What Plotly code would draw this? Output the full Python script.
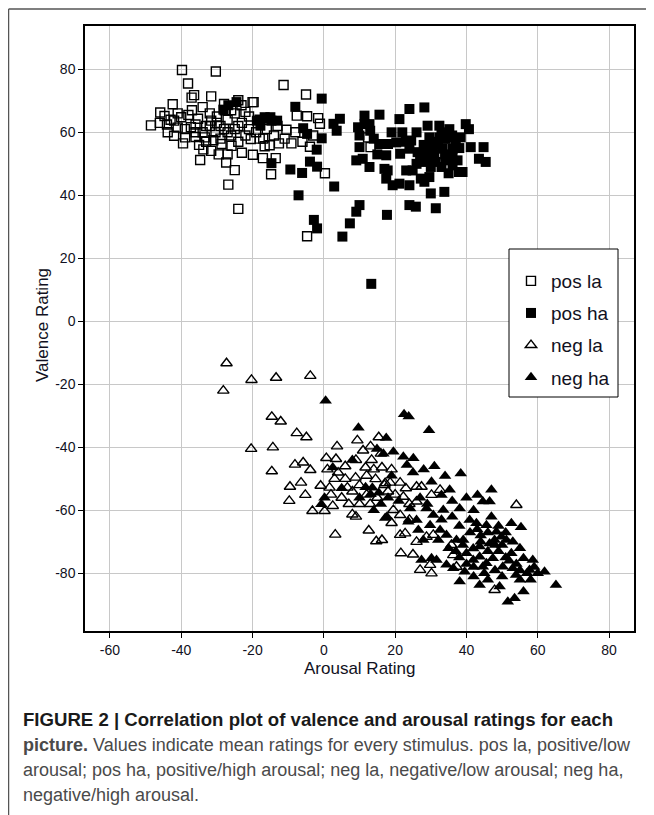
import plotly.graph_objects as go

# ---------------- data ----------------
series_names = ["pos la", "pos ha", "neg la", "neg ha"]

pos_la = [
    (-39.8, 79.8), (-30.3, 79.3), (-38.1, 75.5), (-36.4, 71.8), (-37.1, 71.0), (-31.6, 71.4),
    (-42.4, 68.9), (-45.9, 66.3), (-48.5, 62.2), (-44.7, 65.2), (-43.8, 60.0), (-42.0, 63.7),
    (-40.0, 64.8), (-38.9, 58.4), (-34.7, 51.2), (-33.8, 54.6), (-31.6, 54.1), (-27.4, 50.4),
    (-26.8, 43.4), (-35.3, 64.3), (-33.4, 58.4), (-28.7, 56.3), (-25.9, 55.7), (-24.0, 70.2),
    (-23.1, 68.6), (-27.8, 67.0), (-30.4, 60.0), (-20.5, 57.9), (-20.0, 69.6), (-31.6, 63.7),
    (-37.3, 61.6), (-42.0, 58.9), (-39.0, 61.0), (-36.0, 62.5), (-34.0, 60.0), (-32.0, 66.0),
    (-29.0, 62.0), (-27.0, 64.0), (-25.0, 61.0), (-23.0, 63.0), (-21.0, 65.0), (-22.0, 59.0),
    (-26.0, 59.0), (-29.0, 58.0), (-35.0, 56.0), (-38.0, 65.5), (-41.0, 61.5), (-46.0, 63.0),
    (-44.0, 62.5), (-33.0, 62.0), (-30.0, 65.0), (-28.0, 69.0), (-25.0, 66.0), (-22.0, 66.5),
    (-24.0, 57.0), (-36.0, 58.5), (-39.5, 56.5), (-31.0, 57.5), (-27.0, 53.0), (-29.5, 53.0),
    (-23.0, 53.5), (-25.0, 48.0),
    (-37.0, 67.0), (-34.0, 68.0), (-32.0, 62.0), (-30.0, 63.0), (-27.0, 60.0), (-24.0, 62.0),
    (-21.0, 61.0), (-19.0, 60.0), (-17.0, 58.0), (-14.0, 59.0), (-11.0, 58.0), (-8.0, 60.0),
    (-6.0, 57.0), (-3.0, 59.0), (-41.0, 66.0), (-43.0, 64.0), (-36.0, 60.0), (-33.0, 57.0),
    (-28.0, 61.0), (-26.0, 67.0),
    (-11.3, 75.0), (-5.0, 72.0), (-7.6, 65.3), (-4.7, 65.1), (-1.6, 64.5), (-1.1, 62.7),
    (-10.5, 60.8), (-9.1, 56.5), (-12.6, 56.5), (-15.2, 55.9), (-16.6, 55.6), (-13.5, 51.8),
    (-17.1, 51.8), (-19.9, 52.9), (-14.8, 46.7), (0.3, 47.0), (-3.9, 55.4), (-19.7, 69.6),
    (-18.0, 64.0), (-16.0, 61.0), (-13.0, 62.0), (-18.0, 58.0),
    (-4.7, 27.0), (-24.0, 35.7), (12.4, 58.4), (13.1, 55.3),
]

pos_ha = [
    (-28.2, 67.2), (-26.8, 68.6), (-24.5, 69.6), (-18.8, 63.7), (-17.8, 62.1), (-16.0, 64.3),
    (-15.0, 64.8), (-13.1, 63.7), (-8.0, 68.1), (-5.8, 61.3), (-4.7, 59.5),
    (-0.6, 70.7), (4.5, 64.3), (2.7, 62.7), (3.6, 60.5), (-0.6, 58.1), (-2.0, 54.5),
    (-3.9, 50.7), (-1.9, 49.1), (-9.4, 48.2), (-6.1, 47.1), (2.9, 42.8), (-7.1, 40.0),
    (-16.6, 64.8), (-14.7, 63.7), (-14.7, 50.2), (-2.8, 32.2), (-1.9, 29.5),
    (10.0, 36.9), (9.1, 34.8), (7.3, 31.1), (5.2, 26.9), (17.7, 33.8), (13.3, 11.9),
    (11.4, 65.3), (15.6, 65.6), (11.4, 62.6), (12.8, 62.6), (9.6, 61.6), (10.0, 59.0),
    (10.0, 55.3), (9.1, 51.1), (10.9, 51.6), (12.8, 49.0),
    (15.6, 56.3), (18.0, 56.3), (20.3, 56.8), (17.5, 52.7), (17.9, 47.9), (17.0, 48.4),
    (21.2, 64.2), (24.0, 67.4), (28.2, 67.9),
    (24.5, 57.4), (24.0, 54.8), (26.3, 53.7), (28.6, 53.7), (21.4, 53.2), (23.1, 47.9),
    (24.9, 47.9), (21.2, 43.7), (24.0, 43.2), (17.5, 45.3), (19.3, 43.2),
    (29.1, 62.1), (32.4, 62.1), (35.2, 61.0), (29.6, 58.4), (32.4, 58.4), (34.2, 57.9),
    (37.0, 57.4), (30.5, 55.3), (33.3, 54.8), (36.1, 54.8),
    (27.7, 50.6), (30.0, 49.0), (31.4, 50.6), (34.2, 51.1), (36.1, 49.5), (27.2, 45.3),
    (29.6, 45.8), (28.2, 44.3), (30.0, 40.6), (33.8, 41.1), (24.0, 36.9), (25.8, 36.4),
    (31.4, 35.9), (37.9, 47.4), (38.9, 47.4),
    (39.8, 62.6), (40.7, 61.0), (41.2, 55.3), (44.8, 55.3), (43.5, 51.6), (45.4, 50.6),
    (36.1, 52.1), (37.5, 51.1), (38.4, 58.4),
    (26.0, 60.0), (28.0, 56.0), (31.0, 53.0), (33.0, 60.0), (35.0, 58.5), (27.0, 52.0),
    (30.0, 57.0), (32.0, 56.0), (34.0, 53.0), (36.0, 59.0), (38.0, 55.0), (26.0, 50.0),
    (29.0, 52.0), (33.0, 49.0), (35.0, 47.0), (22.0, 60.0), (23.0, 57.0), (19.0, 60.0),
    (14.0, 58.0), (15.0, 53.0), (13.0, 60.5),
]

neg_la = [
    (-27.3, -13.3), (-28.2, -22.0), (-20.3, -18.6), (-13.4, -17.9), (-3.8, -17.3),
    (-14.6, -30.3), (-12.1, -31.8), (-7.6, -35.5), (-4.9, -36.8), (-20.4, -40.5),
    (-14.3, -40.0), (-14.6, -47.6), (-8.1, -45.5), (-5.8, -44.8), (-3.8, -47.2),
    (-9.5, -52.5), (-6.4, -51.2), (-9.7, -57.0), (-5.2, -55.1), (-3.2, -60.2),
    (0.2, -60.2), (3.7, -39.7), (0.7, -43.4), (3.4, -43.7), (-0.9, -52.2),
    (1.6, -52.8), (2.5, -58.6), (3.2, -67.7), (9.4, -37.8), (15.4, -36.8),
    (13.1, -39.7), (13.4, -44.0), (8.0, -61.3), (12.6, -66.4), (14.7, -69.8),
    (6.6, -52.8), (8.9, -49.6), (11.7, -46.4), (14.5, -50.1), (16.3, -46.4),
    (1.0, -47.0), (4.0, -48.0), (6.0, -46.0), (10.0, -52.0), (12.0, -55.0),
    (5.0, -56.0), (7.0, -58.0), (10.0, -58.0), (15.0, -56.0), (17.0, -52.0),
    (2.0, -55.0), (9.0, -44.0), (11.0, -41.0), (16.0, -42.0),
    (3.0, -50.0), (6.0, -50.0), (8.0, -54.0), (12.0, -49.0), (14.0, -47.0), (18.0, -54.0),
    (20.0, -55.0), (23.0, -53.0), (24.0, -58.0), (13.0, -58.0), (9.0, -62.0), (19.0, -47.0),
    (54.0, -58.3), (17.2, -51.4), (18.6, -51.2), (21.4, -51.2), (26.0, -52.5),
    (27.4, -52.5), (22.3, -55.7), (26.0, -57.2), (30.2, -55.1), (32.6, -53.5),
    (19.5, -59.9), (21.4, -61.5), (22.8, -67.3), (21.4, -67.8), (28.8, -68.4),
    (30.7, -67.8), (21.6, -73.6), (27.0, -78.9), (30.2, -80.0), (36.3, -74.2),
    (37.2, -77.9), (29.8, -77.3), (47.9, -85.3), (35.8, -71.0), (16.3, -69.4),
    (24.0, -63.0), (26.0, -70.0), (19.0, -64.0), (25.0, -74.0),
]

neg_ha = [
    (0.5, -25.2), (9.7, -33.8), (8.0, -44.0), (14.9, -40.5), (2.5, -46.4),
    (0.2, -56.0), (-0.7, -58.1), (11.7, -52.7), (13.6, -52.8), (15.4, -54.4),
    (13.1, -54.9), (17.2, -62.4), (22.5, -29.5), (23.8, -30.2), (29.5, -34.6),
    (17.5, -37.0), (16.0, -58.0), (18.0, -56.0), (14.0, -60.0), (10.0, -56.0),
    (5.0, -53.0),
    (19.5, -41.4), (22.3, -43.0), (25.1, -43.5), (23.3, -45.6), (30.2, -50.9),
    (34.0, -49.1), (38.4, -48.3), (35.3, -53.5), (33.0, -55.1), (43.1, -55.1),
    (47.0, -53.5), (44.6, -57.2), (46.5, -57.2), (33.5, -59.9), (30.7, -61.5),
    (38.1, -59.4), (17.7, -62.0), (23.7, -63.6), (26.5, -66.2), (29.8, -64.7),
    (32.6, -66.2), (26.0, -63.1), (34.4, -67.8), (37.2, -69.4), (39.1, -69.4),
    (40.9, -63.1), (42.8, -64.1), (45.6, -64.7), (48.4, -66.8), (49.8, -68.4),
    (51.2, -69.4), (52.6, -64.1), (55.3, -65.4), (41.9, -72.1), (43.7, -71.5),
    (46.5, -70.5), (47.9, -69.4), (52.6, -73.6), (56.0, -75.2), (58.6, -75.8),
    (41.9, -75.8), (45.6, -76.8), (47.4, -75.2), (50.2, -77.9), (53.0, -78.4),
    (53.9, -80.5), (57.7, -78.9), (60.0, -80.0), (61.9, -79.5), (38.1, -82.6),
    (43.7, -83.7), (49.3, -84.2), (51.6, -89.0), (53.5, -87.9), (56.0, -85.8),
    (65.1, -83.7), (27.4, -75.8), (30.2, -75.2), (31.6, -75.8), (34.4, -77.3),
    (36.3, -78.4), (39.5, -79.5), (27.9, -69.4), (32.1, -69.4), (40.0, -73.6),
    (43.7, -74.7), (44.6, -77.9), (16.7, -42.0), (24.2, -59.4), (28.8, -59.4),
    (36.0, -62.0), (38.0, -65.0), (41.0, -67.0), (44.0, -68.0), (47.0, -62.0),
    (49.0, -73.0), (51.0, -75.0), (45.0, -80.0), (48.0, -79.0), (55.0, -82.0),
    (58.0, -82.0), (35.0, -72.0), (38.0, -75.0), (42.0, -78.0), (33.0, -63.0),
    (21.0, -57.0), (19.0, -49.0), (25.0, -48.0), (28.0, -47.0), (31.0, -46.0),
    (27.0, -56.0), (29.0, -58.0), (36.0, -57.0), (40.0, -56.0), (42.0, -60.0),
    (44.0, -70.0), (46.0, -73.0), (48.0, -71.0), (50.0, -71.0), (52.0, -76.0),
    (54.0, -77.0), (55.0, -79.0), (57.0, -80.0), (59.0, -78.0), (50.0, -81.0),
    (46.0, -82.0), (42.0, -81.0), (40.0, -77.0), (37.0, -73.0), (39.0, -71.0),
    (43.0, -66.0), (46.0, -67.0), (49.0, -65.0), (51.0, -67.0), (53.0, -70.0),
    (55.0, -72.0),
]

x_ticks = [-60, -40, -20, 0, 20, 40, 60, 80]
x_tick_labels = ["-60", "-40", "-20", "0", "20", "40", "60", "80"]
y_ticks = [-80, -60, -40, -20, 0, 20, 40, 60, 80]
y_tick_labels = ["-80", "-60", "-40", "-20", "0", "20", "40", "60", "80"]
x_title = "Arousal Rating"
y_title = "Valence Rating"
caption_lines = [
    "<b>FIGURE 2 | Correlation plot of valence and arousal ratings for each</b>",
    "<b>picture.</b> Values indicate mean ratings for every stimulus. pos la, positive/low",
    "arousal; pos ha, positive/high arousal; neg la, negative/low arousal; neg ha,",
    "negative/high arousal.",
]

# ---------------- figure ----------------
# The page body has an 8 px margin, so the figure is 8 px smaller on each side
# and positions below are given in page pixels, then converted.
OFF = 8
W, H = 654 - OFF, 815 - OFF
PL, PR, PT, PB = 85, 634, 26, 631          # plot area in page pixels
L, R, T, B = PL - OFF, W - (PR - OFF), PT - OFF, H - (PB - OFF)
PW, PH = PR - PL, PB - PT


def px_x(p):
    return (p - PL) / PW


def px_y(p):
    return (PB - p) / PH


styles = [
    dict(symbol="square-open", size=9, color="black", line=dict(width=1.4, color="black")),
    dict(symbol="square", size=10, color="black", line=dict(width=0)),
    dict(symbol="triangle-up-open", size=10, color="black", line=dict(width=1.4, color="black")),
    dict(symbol="triangle-up", size=11, color="black", line=dict(width=0)),
]

fig = go.Figure()
for name, pts, st in zip(series_names, [pos_la, pos_ha, neg_la, neg_ha], styles):
    fig.add_trace(go.Scatter(
        x=[p[0] for p in pts], y=[p[1] for p in pts],
        mode="markers", name=name, legendgroup=name,
        marker=st, hoverinfo="x+y",
    ))

axis_common = dict(
    showgrid=True, gridcolor="#c8c8c8", gridwidth=1.4,
    zeroline=False, showline=True, linecolor="black", linewidth=1.5, mirror=True,
    ticks="outside", ticklen=5, tickcolor="black", tickwidth=1,
    tickfont=dict(family="Liberation Sans, Arial, sans-serif", size=14, color="#111122"),
)

fig.update_layout(
    width=W, height=H, autosize=False,
    margin=dict(l=L, r=R, t=T, b=B, pad=0),
    paper_bgcolor="white", plot_bgcolor="white",
    xaxis=dict(range=[-67, 87], tickvals=x_ticks, ticktext=x_tick_labels, **axis_common),
    yaxis=dict(range=[-98.3, 93.75], tickvals=y_ticks, ticktext=y_tick_labels, **axis_common),
    showlegend=True,
    legend=dict(
        x=px_x(511), y=px_y(262), xanchor="left", yanchor="top",
        bgcolor="rgba(0,0,0,0)", borderwidth=0,
        font=dict(family="Liberation Sans, Arial, sans-serif", size=19, color="#111122"),
        tracegroupgap=4.4, itemsizing="trace",
    ),
    shapes=[
        # legend frame
        dict(type="rect", xref="paper", yref="paper",
             x0=px_x(509), x1=px_x(618), y0=px_y(397), y1=px_y(249),
             line=dict(color="black", width=1), fillcolor="white", layer="above"),
        # figure border (top and left)
        dict(type="line", xref="paper", yref="paper",
             x0=px_x(8.6), x1=px_x(660), y0=px_y(9), y1=px_y(9),
             line=dict(color="#555555", width=1.3)),
        dict(type="line", xref="paper", yref="paper",
             x0=px_x(8.6), x1=px_x(8.6), y0=px_y(9), y1=px_y(820),
             line=dict(color="#555555", width=1.3)),
    ],
)

annotations = [
    dict(text=x_title, x=0.5, y=px_y(668), xref="paper", yref="paper",
         xanchor="center", yanchor="middle", showarrow=False,
         font=dict(family="Liberation Sans, Arial, sans-serif", size=17, color="#111122")),
    dict(text=y_title, x=px_x(43), y=px_y(325), xref="paper", yref="paper", textangle=-90,
         xanchor="center", yanchor="middle", showarrow=False,
         font=dict(family="Liberation Sans, Arial, sans-serif", size=17, color="#111122")),
]
cap_y = [719.7, 745.0, 770.0, 794.5]
cap_size = [18.6, 18, 18, 18]
for i, (txt, yy, sz) in enumerate(zip(caption_lines, cap_y, cap_size)):
    annotations.append(dict(
        text=txt, x=px_x(21), y=px_y(yy), xref="paper", yref="paper",
        xanchor="left", yanchor="middle", showarrow=False, align="left",
        font=dict(family="Liberation Sans, Arial, sans-serif",
                  size=sz, color="#4a4a4a" if i > 0 else "#1a1a1a"),
    ))
fig.update_layout(annotations=annotations)

fig.write_html("out.html")
